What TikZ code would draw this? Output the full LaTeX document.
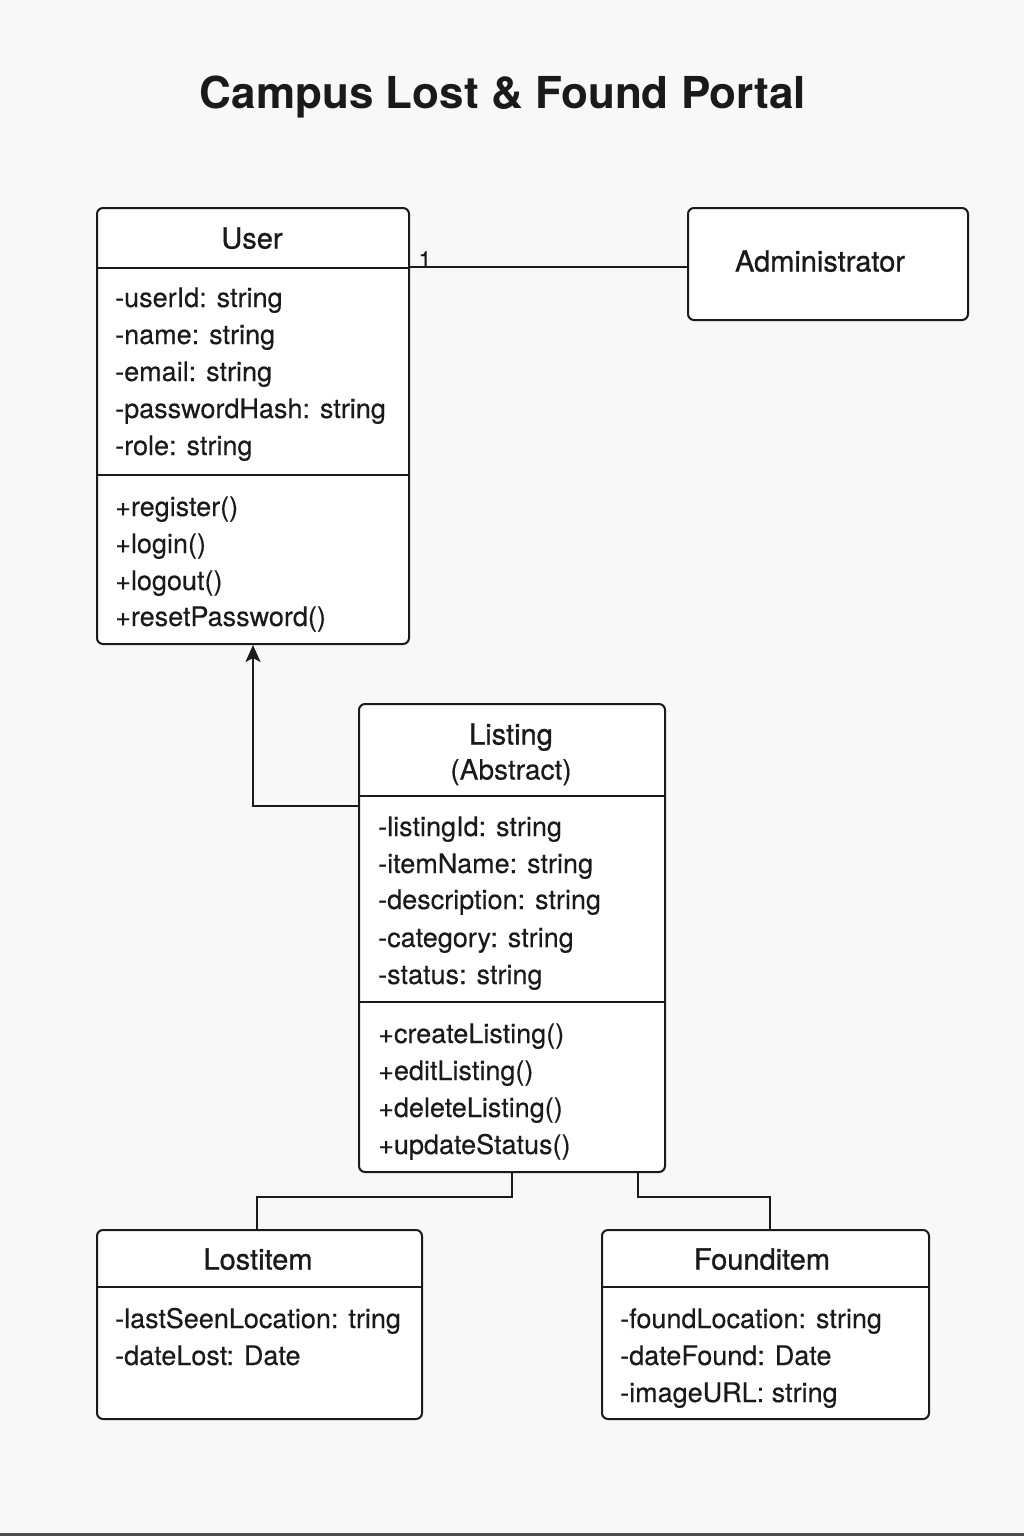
\documentclass[tikz,border=0pt]{standalone}
\usepackage{fontspec}
\setmainfont{TeX Gyre Heros}
\newfontfamily\bodyfont[FakeBold=0.3]{TeX Gyre Heros}
\newfontfamily\namefont[FakeBold=0.9]{TeX Gyre Heros}
\usetikzlibrary{arrows.meta}
\definecolor{bg}{HTML}{F8F8F8}
\definecolor{ink}{HTML}{1A1A1A}
\begin{document}
\begin{tikzpicture}[x=1pt,y=-1pt,
  classbox/.style={draw=ink, line width=2pt, rounded corners=6pt, fill=white, inner sep=0pt, anchor=north west},
  divider/.style={draw=ink, line width=2pt},
  conn/.style={draw=ink, line width=2pt},
  attr/.style={anchor=base west, inner sep=0pt, yshift=-10pt, text=ink, font=\bodyfont\fontsize{27}{32}\selectfont},
  cname/.style={anchor=base, inner sep=0pt, yshift=-10.5pt, text=ink, font=\namefont\fontsize{29}{34}\selectfont},
  ttl/.style={anchor=center, inner sep=0pt, text=ink, font=\fontsize{44}{50}\selectfont\bfseries}
]
\useasboundingbox (0,0) rectangle (1024,1536);
\fill[bg] (0,0) rectangle (1024,1536);
\fill[gray!60!black] (0,1533) rectangle (1024,1536);

\node[ttl] (title) at (503,97) {Campus Lost \& Found Portal};

% User
\node[classbox, minimum width=312pt, minimum height=436pt] (user) at (96,207) {};
\draw[divider] (user.west |- 0,268) -- (user.east |- 0,268);
\draw[divider] (user.west |- 0,475) -- (user.east |- 0,475);
\node[cname] (userT) at (252,238) {User};
\node[attr] (u1) at (115,297) {-userId: string};
\node[attr] (u2) at (115,334) {-name: string};
\node[attr] (u3) at (115,371) {-email: string};
\node[attr] (u4) at (115,408) {-passwordHash: string};
\node[attr] (u5) at (115,445) {-role: string};
\node[attr] (um1) at (115,506) {+register()};
\node[attr] (um2) at (115,543) {+login()};
\node[attr] (um3) at (115,580) {+logout()};
\node[attr] (um4) at (115,616) {+resetPassword()};

% Administrator
\node[classbox, minimum width=280pt, minimum height=112pt] (admin) at (687,207) {};
\node[cname] (adminT) at (820,261) {Administrator};

\draw[conn] (user.east |- 0,267) -- (admin.west |- 0,267);
\node[anchor=south, inner sep=0pt, text=ink, font=\bodyfont\fontsize{23}{26}\selectfont] (one) at (425,268) {1};

% Listing
\node[classbox, minimum width=306pt, minimum height=468pt] (listing) at (358,703) {};
\draw[divider] (listing.west |- 0,796) -- (listing.east |- 0,796);
\draw[divider] (listing.west |- 0,1002) -- (listing.east |- 0,1002);
\node[cname] (listingT) at (511,734) {Listing};
\node[cname, font=\bodyfont\fontsize{28}{32}\selectfont] (listingA) at (511,769) {(Abstract)};
\node[attr] (l1) at (378,826) {-listingId: string};
\node[attr] (l2) at (378,863) {-itemName: string};
\node[attr] (l3) at (378,899) {-description: string};
\node[attr] (l4) at (378,937) {-category: string};
\node[attr] (l5) at (378,974) {-status: string};
\node[attr] (lm1) at (378,1033) {+createListing()};
\node[attr] (lm2) at (378,1070) {+editListing()};
\node[attr] (lm3) at (378,1107) {+deleteListing()};
\node[attr] (lm4) at (378,1144) {+updateStatus()};

\draw[conn, -{Stealth[length=17pt,width=15pt,inset=4pt]}] (listing.west |- 0,806) -| (user.south);

% Lostitem
\node[classbox, minimum width=325pt, minimum height=189pt] (lost) at (96,1229) {};
\draw[divider] (lost.west |- 0,1287) -- (lost.east |- 0,1287);
\node[cname] (lostT) at (258,1259) {Lostitem};
\node[attr] (lo1) at (115,1318) {-lastSeenLocation: tring};
\node[attr] (lo2) at (115,1355) {-dateLost: Date};

% Founditem
\node[classbox, minimum width=327pt, minimum height=189pt] (found) at (601,1229) {};
\draw[divider] (found.west |- 0,1287) -- (found.east |- 0,1287);
\node[cname] (foundT) at (762,1259) {Founditem};
\node[attr] (f1) at (620,1318) {-foundLocation: string};
\node[attr] (f2) at (620,1355) {-dateFound: Date};
\node[attr] (f3) at (620,1392) {-imageURL: string};

\coordinate (lostTop) at (257,1229);
\coordinate (foundTop) at (770,1229);
\draw[conn] (listing.south -| 512,0) -- (512,1197) -| (lostTop);
\draw[conn] (listing.south -| 638,0) -- (638,1197) -| (foundTop);
\end{tikzpicture}
\end{document}
